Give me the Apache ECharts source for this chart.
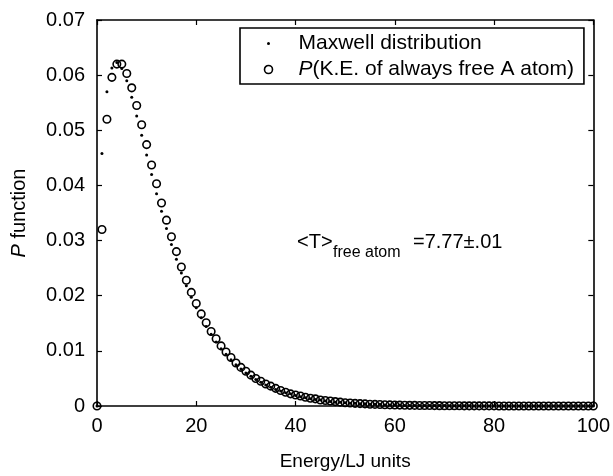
<!DOCTYPE html>
<html>
<head>
<meta charset="utf-8">
<script src="https://cdn.jsdelivr.net/npm/echarts@6/dist/echarts.min.js"></script>
<style>
html,body{margin:0;padding:0;background:#fff;}
#chart{width:613px;height:476px;}
</style>
</head>
<body>
<div id="chart"></div>
<script>
// Energy values (LJ units)
var energy = [
  0,
  1, 2, 3, 4, 5, 6, 7, 8, 9, 10,
  11, 12, 13, 14, 15, 16, 17, 18, 19, 20,
  21, 22, 23, 24, 25, 26, 27, 28, 29, 30,
  31, 32, 33, 34, 35, 36, 37, 38, 39, 40,
  41, 42, 43, 44, 45, 46, 47, 48, 49, 50,
  51, 52, 53, 54, 55, 56, 57, 58, 59, 60,
  61, 62, 63, 64, 65, 66, 67, 68, 69, 70,
  71, 72, 73, 74, 75, 76, 77, 78, 79, 80,
  81, 82, 83, 84, 85, 86, 87, 88, 89, 90,
  91, 92, 93, 94, 95, 96, 97, 98, 99, 100
];

// Maxwell distribution (dots)
var maxwell = [
  0,
  0.0458, 0.0570, 0.0613, 0.0623, 0.0612, 0.0590, 0.0560, 0.0526, 0.0491, 0.0455,
  0.0420, 0.0385, 0.0353, 0.0322, 0.0293, 0.0266, 0.0241, 0.0218, 0.0197, 0.0178,
  0.0160, 0.0144, 0.0130, 0.0116, 0.0104, 0.0094, 0.0084, 0.0075, 0.0067, 0.0060,
  0.0054, 0.0048, 0.0043, 0.0038, 0.0034, 0.0030, 0.0027, 0.0024, 0.0022, 0.0019,
  0.0017, 0.0015, 0.0013, 0.0012, 0.0011, 0.0009, 0.0008, 0.0007, 0.0007, 0.0006,
  0.0005, 0.0005, 0.0004, 0.0004, 0.0003, 0.0003, 0.0003, 0.0002, 0.0002, 0.0002,
  0.0002, 0.0001, 0.0001, 0.0001, 0.0001, 0.0001, 0.0001, 0.0001, 0.0001, 0.0001,
  0.00004, 0.00004, 0.00003, 0.00003, 0.00003, 0.00002, 0.00002, 0.00002, 0.00002, 0.00002,
  0.00001, 0.00001, 0.00001, 0.00001, 0.00001, 0.00001, 0.00001, 0.00001, 0.00001, 0.00001,
  0, 0, 0, 0, 0, 0, 0, 0, 0, 0
];

// P(K.E. of always free A atom) (open circles)
var freeAtom = [
  0,
  0.0320, 0.0520, 0.0596, 0.0620, 0.0620, 0.0603, 0.0577, 0.0545, 0.0510, 0.0474,
  0.0437, 0.0403, 0.0368, 0.0337, 0.0307, 0.0280, 0.0252, 0.0228, 0.0206, 0.0186,
  0.0167, 0.0151, 0.0135, 0.0122, 0.0109, 0.0098, 0.0088, 0.0078, 0.0070, 0.0063,
  0.0056, 0.0050, 0.0045, 0.0040, 0.0036, 0.0032, 0.0028, 0.0025, 0.0022, 0.0020,
  0.0018, 0.0016, 0.0014, 0.0013, 0.0011, 0.0010, 0.0009, 0.0008, 0.0007, 0.0006,
  0.00054, 0.00048, 0.00043, 0.00038, 0.00033, 0.00029, 0.00026, 0.00023, 0.00020, 0.00018,
  0.00016, 0.00014, 0.00012, 0.00011, 0.00010, 0.00009, 0.00008, 0.00007, 0.00006, 0.00005,
  0.00005, 0.00004, 0.00004, 0.00003, 0.00003, 0.00003, 0.00002, 0.00002, 0.00002, 0.00002,
  0.00001, 0.00001, 0.00001, 0.00001, 0.00001, 0.00001, 0.00001, 0.00001, 0.00001, 0.00001,
  0, 0, 0, 0, 0, 0, 0, 0, 0, 0
];

var xTicks = [0, 20, 40, 60, 80, 100];
var yTicks = [0, 0.01, 0.02, 0.03, 0.04, 0.05, 0.06, 0.07];

var seriesNames = ['Maxwell distribution', 'P(K.E. of always free A atom)'];

function pairs(xs, ys) {
  var out = [];
  for (var i = 0; i < xs.length; i++) out.push([xs[i], ys[i]]);
  return out;
}

var FONT = 'Liberation Sans';
var chart = echarts.init(document.getElementById('chart'), null, {renderer: 'canvas'});

var axisLineStyle = {color: '#000', width: 1.6};

var option = {
  backgroundColor: '#fff',
  animation: false,
  textStyle: {fontFamily: FONT, color: '#000'},
  grid: {left: 97, right: 19, top: 20, bottom: 65, show: false},
  xAxis: [{
    type: 'value',
    min: xTicks[0], max: xTicks[xTicks.length - 1], interval: 20,
    position: 'bottom',
    axisLine: {show: true, onZero: false, lineStyle: axisLineStyle},
    axisTick: {show: true, inside: true, length: 5, lineStyle: {color: '#000', width: 1.2}},
    axisLabel: {color: '#000', fontSize: 20, fontFamily: FONT, margin: 10},
    splitLine: {show: false},
    name: 'Energy/LJ units',
    nameLocation: 'middle',
    nameGap: 46,
    nameTextStyle: {color: '#000', fontSize: 19, fontFamily: FONT}
  }, {
    type: 'value',
    min: xTicks[0], max: xTicks[xTicks.length - 1], interval: 20,
    position: 'top',
    axisLine: {show: true, onZero: false, lineStyle: axisLineStyle},
    axisTick: {show: true, inside: true, length: 5, lineStyle: {color: '#000', width: 1.2}},
    axisLabel: {show: false},
    splitLine: {show: false}
  }],
  yAxis: [{
    type: 'value',
    min: yTicks[0], max: yTicks[yTicks.length - 1], interval: 0.01,
    position: 'left',
    axisLine: {show: true, onZero: false, lineStyle: axisLineStyle},
    axisTick: {show: true, inside: true, length: 5, lineStyle: {color: '#000', width: 1.2}},
    axisLabel: {color: '#000', fontSize: 20, fontFamily: FONT, margin: 12,
      formatter: function (v) { return v === 0 ? '0' : v.toFixed(2); }},
    splitLine: {show: false},
    name: '{i|P} function',
    nameLocation: 'middle',
    nameGap: 68,
    nameRotate: 90,
    nameTextStyle: {color: '#000', fontSize: 20, fontFamily: FONT,
      rich: {i: {fontStyle: 'italic', fontSize: 20, fontFamily: FONT, color: '#000'}}}
  }, {
    type: 'value',
    min: yTicks[0], max: yTicks[yTicks.length - 1], interval: 0.01,
    position: 'right',
    axisLine: {show: true, onZero: false, lineStyle: axisLineStyle},
    axisTick: {show: true, inside: true, length: 5, lineStyle: {color: '#000', width: 1.2}},
    axisLabel: {show: false},
    splitLine: {show: false}
  }],
  legend: {
    show: true,
    left: 240,
    top: 28,
    orient: 'vertical',
    selectedMode: false,
    backgroundColor: '#fff',
    borderColor: '#000',
    borderWidth: 1.6,
    borderRadius: 0,
    padding: [5, 10, 4, 22],
    itemGap: 5,
    itemWidth: 36,
    itemHeight: 8,
    textStyle: {color: '#000', fontSize: 21, fontFamily: FONT, padding: [0, 0, 0, 7],
      rich: {i: {fontStyle: 'italic', fontSize: 21, fontFamily: FONT, color: '#000'}}},
    formatter: function (name) {
      if (name === seriesNames[1]) return '{i|P}(K.E. of always free A atom)';
      return name;
    },
    data: [
      {name: seriesNames[0], icon: 'circle',
        itemStyle: {color: '#000', borderColor: '#fff', borderWidth: 5}},
      {name: seriesNames[1], icon: 'circle',
        itemStyle: {color: 'rgba(0,0,0,0)', borderColor: '#000', borderWidth: 1.6}}
    ]
  },
  series: [{
    name: seriesNames[1],
    type: 'scatter',
    data: pairs(energy, freeAtom),
    symbol: 'circle',
    symbolSize: 7.5,
    itemStyle: {color: 'rgba(0,0,0,0)', borderColor: '#000', borderWidth: 1.6, opacity: 1},
    z: 2,
    emphasis: {disabled: true}
  }, {
    name: seriesNames[0],
    type: 'scatter',
    data: pairs(energy, maxwell),
    symbol: 'circle',
    symbolSize: 3,
    itemStyle: {color: '#000', opacity: 1},
    z: 3,
    emphasis: {disabled: true}
  }],
  graphic: [{
    type: 'text', left: 297, top: 232,
    style: {text: '<T>', font: '20px "Liberation Sans"', fill: '#000'}
  }, {
    type: 'text', left: 333, top: 245,
    style: {text: 'free atom', font: '16px "Liberation Sans"', fill: '#000'}
  }, {
    type: 'text', left: 413, top: 232,
    style: {text: '=7.77\u00b1.01', font: '20px "Liberation Sans"', fill: '#000'}
  }]
};
chart.setOption(option);
</script>
</body>
</html>
